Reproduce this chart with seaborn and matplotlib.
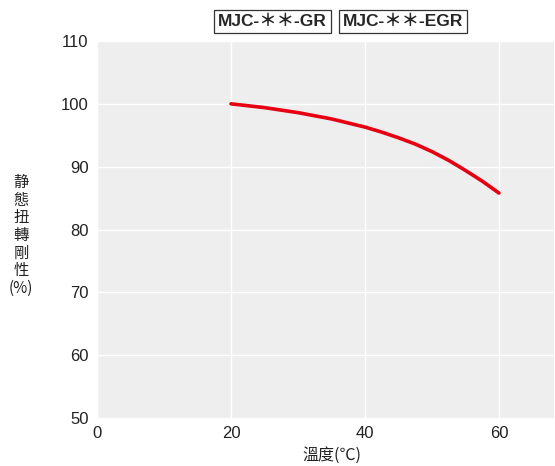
import pandas as pd
import seaborn as sns
import matplotlib.pyplot as plt

# values
temperature = [20, 25, 30, 35, 40, 42.5, 45, 47.5, 50, 52.5, 55, 57.5, 60]
stiffness = [100.0, 99.4, 98.6, 97.6, 96.3, 95.5, 94.6, 93.6, 92.4, 91.0, 89.4, 87.7, 85.8]
x_ticks = [0, 20, 40, 60]
y_ticks = [50, 60, 70, 80, 90, 100, 110]
series_labels = ["MJC-＊＊-GR", "MJC-＊＊-EGR"]

sns.set_style("darkgrid", {"axes.facecolor": "#eeeeee", "grid.color": "white"})
plt.rcParams["font.family"] = ["Liberation Sans", "Noto Sans CJK TC", "DejaVu Sans"]

df = pd.DataFrame({"temp": temperature, "value": stiffness})

fig = plt.figure(figsize=(5.55, 4.66), dpi=100)
ax = fig.add_axes([0.1748, 0.103, 0.8232, 0.809])
sns.lineplot(data=df, x="temp", y="value", color="#e60012", linewidth=2.6, ax=ax)
ax.lines[0].set_solid_joinstyle("round")

ax.set_xlim(0, 68.2)
ax.set_ylim(50, 110)
ax.set_xticks(x_ticks)
ax.set_yticks(y_ticks)
ax.tick_params(labelsize=12, labelcolor="#222222", length=0, pad=6)
ax.grid(True, color="white", linewidth=1)
for s in ax.spines.values():
    s.set_visible(False)
ax.set_xlabel("")
ax.set_ylabel("")

fig.text(0.038, 0.495, "静\n態\n扭\n轉\n剛\n性\n(%)", ha="center", va="center",
         fontsize=11, linespacing=1.05, color="#222222",
         family=["Noto Sans CJK TC", "DejaVu Sans"])
fig.text(0.598, 0.004, "溫度(℃)", ha="center", va="bottom", fontsize=11.5,
         color="#222222", family=["Noto Sans CJK TC", "DejaVu Sans"])

box = dict(boxstyle="square,pad=0.22", facecolor="white", edgecolor="#333333", linewidth=0.9)
fig.text(0.491, 0.954, series_labels[0], ha="center", va="center", fontsize=12.5,
         fontweight="bold", bbox=box, family=["Liberation Sans", "Noto Sans CJK JP"])
fig.text(0.727, 0.954, series_labels[1], ha="center", va="center", fontsize=12.5,
         fontweight="bold", bbox=box, family=["Liberation Sans", "Noto Sans CJK JP"])

fig.savefig("out.png", dpi=100)
